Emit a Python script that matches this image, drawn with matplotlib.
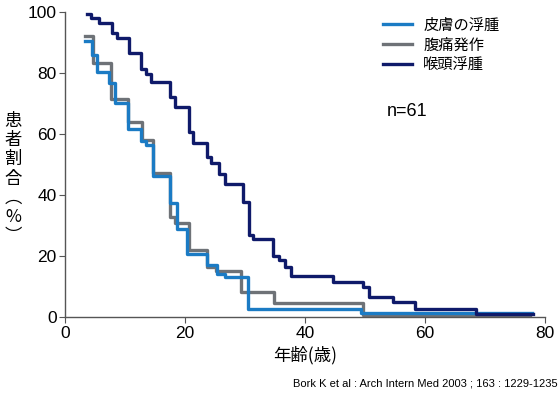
import matplotlib
matplotlib.use('Agg')
import matplotlib.pyplot as plt

plt.rcParams['font.family'] = ['Noto Sans CJK JP', 'DejaVu Sans']
latin = ['Liberation Sans', 'DejaVu Sans']

# step curves: age at which the value changes, value after the change
skin_age = [3.3, 4.5, 5.3, 7.4, 8.4, 10.5, 12.6, 13.5, 14.6, 17.5, 18.6, 20.4, 23.7, 25.4, 26.7, 30.5, 49.3, 77.8]
skin_pct = [90.6, 85.8, 80.3, 76.8, 70.3, 61.5, 57.7, 56.4, 46.2, 37.5, 28.8, 20.7, 17.0, 14.3, 13.1, 2.8, 1.3, 1.3]

abd_age = [3.3, 4.7, 7.6, 10.5, 12.8, 14.7, 17.5, 18.4, 20.6, 23.6, 25.2, 29.4, 34.8, 49.6, 77.5]
abd_pct = [92.1, 83.2, 71.5, 64.0, 58.0, 47.3, 32.9, 30.8, 22.0, 16.4, 15.2, 8.3, 4.5, 0.8, 0.8]

lar_age = [3.6, 4.4, 5.6, 7.9, 8.6, 10.6, 12.6, 13.5, 14.4, 17.5, 18.3, 20.6, 21.4, 23.6, 24.4,
           25.6, 26.7, 29.7, 30.7, 31.3, 34.6, 35.6, 36.7, 37.6, 44.6, 49.6, 50.7, 54.6, 58.3, 68.5, 78.0]
lar_pct = [99.3, 98.0, 96.5, 93.0, 91.5, 86.5, 81.2, 79.7, 77.0, 72.2, 69.0, 60.5, 57.1, 52.5, 50.5,
           47.0, 43.6, 37.8, 26.9, 25.5, 20.0, 18.7, 16.5, 13.4, 11.6, 9.9, 6.7, 4.9, 2.6, 1.2, 1.2]

labels = ['皮膚の浮腫', '腹痛発作', '喉頭浮腫']
colors = ['#1b7bc4', '#6e7277', '#0f1a6a']

fig = plt.figure(figsize=(5.6, 3.95), dpi=100)
ax = fig.add_axes([0.116, 0.197, 0.857, 0.773])

ax.step(abd_age, abd_pct, where='post', color=colors[1], lw=2.4, label=labels[1], zorder=2)
ax.step(skin_age, skin_pct, where='post', color=colors[0], lw=2.4, label=labels[0], zorder=3)
ax.step(lar_age, lar_pct, where='post', color=colors[2], lw=2.4, label=labels[2], zorder=4)

ax.set_xlim(0, 80)
ax.set_ylim(0, 100)
ax.set_xticks([0, 20, 40, 60, 80])
ax.set_yticks([0, 20, 40, 60, 80, 100])
for s in ['top', 'right']:
    ax.spines[s].set_visible(False)
for s in ['left', 'bottom']:
    ax.spines[s].set_color('#555555')
    ax.spines[s].set_linewidth(1.0)
ax.tick_params(direction='out', length=4, color='#555555', labelsize=12.5, pad=2)
for t in ax.get_xticklabels() + ax.get_yticklabels():
    t.set_family(latin)

h, l = ax.get_legend_handles_labels()
order = [1, 0, 2]
ax.legend([h[i] for i in order], [l[i] for i in order], loc='upper left',
          bbox_to_anchor=(0.635, 1.03), frameon=False, fontsize=11,
          handlelength=1.9, handletextpad=0.7, labelspacing=0.2)

ax.text(0.67, 0.66, 'n=61', transform=ax.transAxes, fontsize=13, family=latin)

fig.text(0.024, 0.548, '患\n者\n割\n合\n︵\n%\n︶', ha='center', va='center', fontsize=12.5, linespacing=1.08)
fig.text(0.545, 0.1, '年齢(歳)', ha='center', va='center', fontsize=12.5)
fig.text(0.995, 0.028, 'Bork K et al : Arch Intern Med 2003 ; 163 : 1229-1235',
         ha='right', va='center', fontsize=8.0, family=latin)

fig.savefig('out.png', dpi=100)
